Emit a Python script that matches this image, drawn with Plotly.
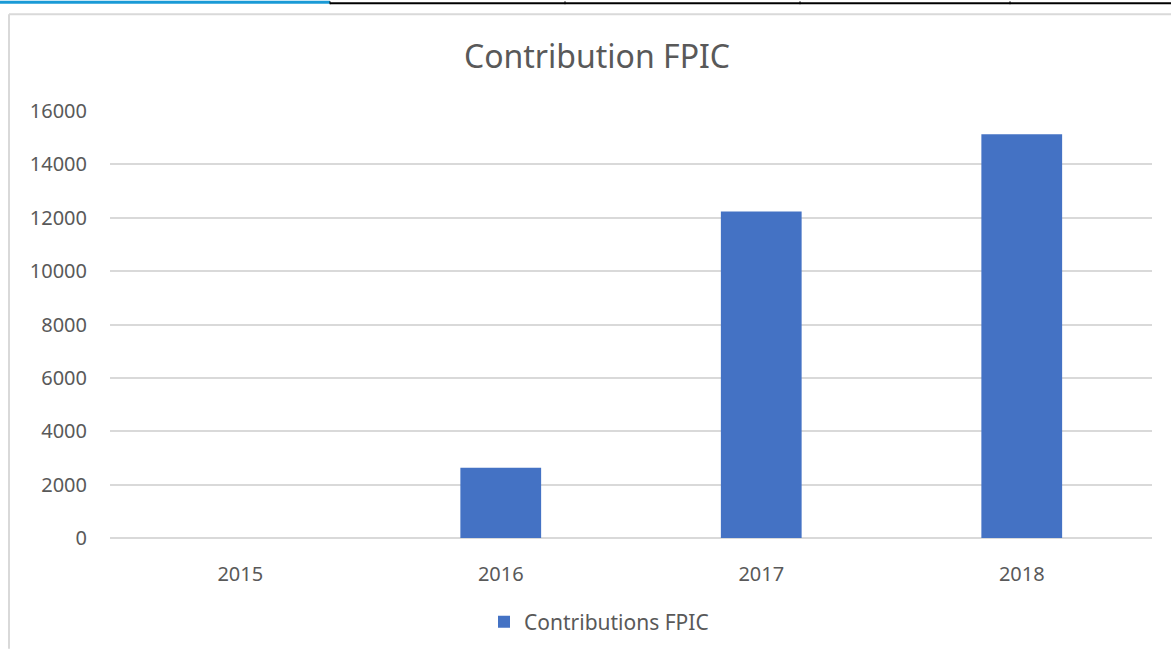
import plotly.graph_objects as go

years = ["2015", "2016", "2017", "2018"]
contributions = [0, 2630, 12230, 15130]
series_name = "Contributions FPIC"
title_text = "Contribution FPIC"
y_ticks = [0, 2000, 4000, 6000, 8000, 10000, 12000, 14000, 16000]

W, H = 1171, 655
L, R, T, B = 110, 19, 111, 112
PW, PH = W - L - R, H - T - B


def px(x):
    return (x - L) / PW


def py(y):
    return (H - B - y) / PH


font_family = "Noto Sans, Open Sans, sans-serif"
grey = "#595959"

fig = go.Figure()
fig.add_trace(go.Bar(
    x=years, y=contributions, name=series_name,
    marker=dict(color="#4472C4", line=dict(width=0)),
    showlegend=True,
))

shapes = [
    # gray chart frame
    dict(type="line", xref="paper", yref="paper", x0=px(9), x1=px(1171), y0=py(13), y1=py(13),
         line=dict(color="#d9d9d9", width=2), layer="below"),
    dict(type="line", xref="paper", yref="paper", x0=px(9), x1=px(9), y0=py(13), y1=py(655),
         line=dict(color="#d9d9d9", width=2), layer="below"),
    # top strip lines
    dict(type="line", xref="paper", yref="paper", x0=px(330), x1=px(1171), y0=py(2), y1=py(2),
         line=dict(color="#000000", width=2)),
    dict(type="line", xref="paper", yref="paper", x0=px(0), x1=px(330), y0=py(1), y1=py(1),
         line=dict(color="#1a9ad6", width=3)),
]
for sx in [330, 565, 800, 1010]:
    shapes.append(dict(type="line", xref="paper", yref="paper", x0=px(sx), x1=px(sx), y0=py(0), y1=py(3),
                       line=dict(color="#000000", width=1)))

fig.update_layout(
    width=W, height=H,
    margin=dict(l=L, r=R, t=T, b=B, pad=0),
    paper_bgcolor="white", plot_bgcolor="white",
    bargap=0.69,
    font=dict(family=font_family, color=grey, size=20),
    title=dict(text=title_text, x=597 / W, xanchor="center", y=1 - 57 / H, yanchor="middle",
               font=dict(family=font_family, size=32, color=grey)),
    xaxis=dict(showgrid=False, showline=False, ticks="", zeroline=False,
               tickfont=dict(size=20, color=grey), ticklabelstandoff=22),
    yaxis=dict(range=[0, 16000], tickvals=y_ticks, tickformat="d", showgrid=True, gridcolor="#d9d9d9",
               gridwidth=1.5, zeroline=True, zerolinecolor="#d9d9d9", zerolinewidth=2, showline=False,
               ticks="", tickfont=dict(size=20, color=grey), ticklabelstandoff=22),
    legend=dict(orientation="h", x=px(599), xanchor="center", y=py(628), yanchor="middle",
                font=dict(size=21, color=grey), itemwidth=30),
    shapes=shapes,
)

fig.write_html("out.html")
